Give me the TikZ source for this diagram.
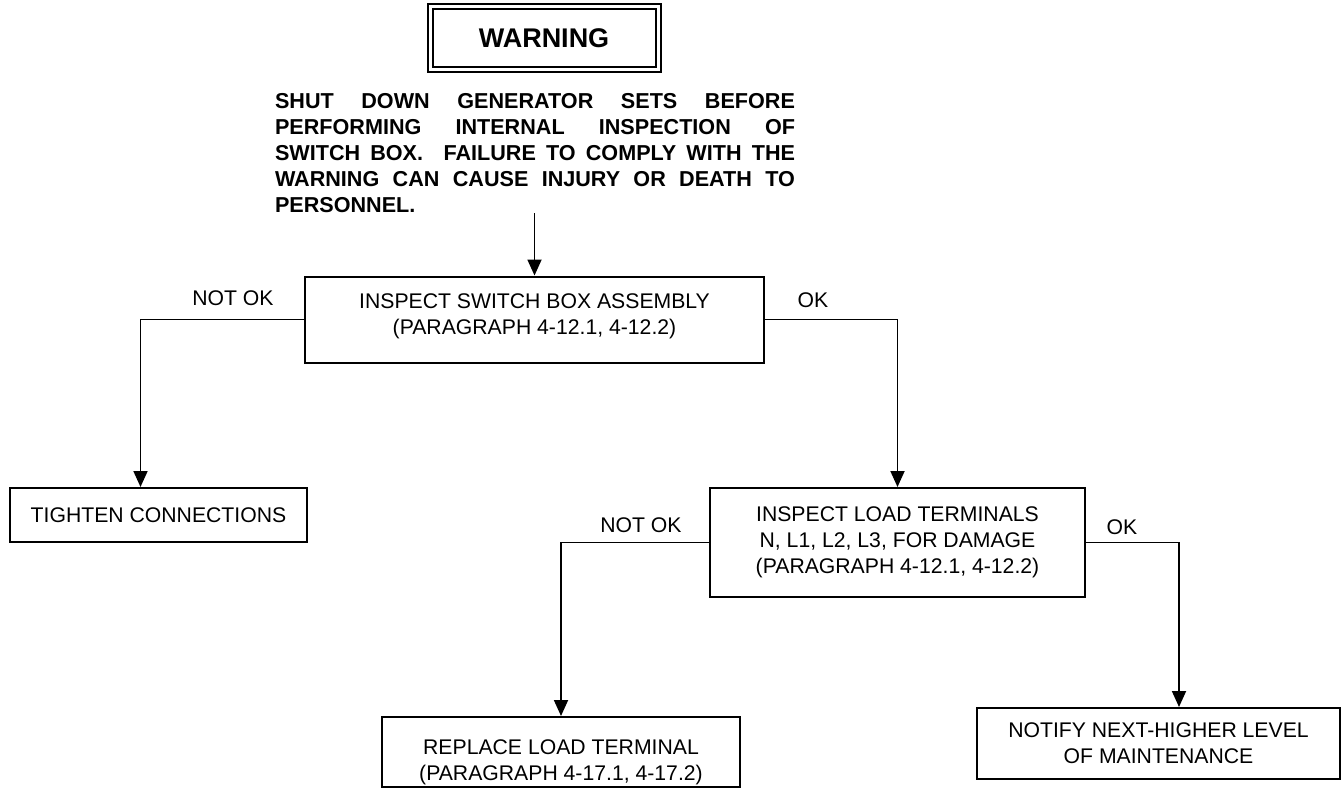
\documentclass[tikz,border=0pt]{standalone}
\usepackage{fontspec}
\setmainfont{Liberation Sans}
\usetikzlibrary{arrows.meta,positioning}

\tikzset{
  stepbox/.style={draw,line width=1pt,inner sep=0pt,align=center,
    font=\fontsize{10.6}{13}\selectfont},
  flow/.style={-{Triangle[length=8pt,width=7pt]},line width=0.9pt},
  tag/.style={font=\fontsize{10.6}{13}\selectfont}
}

\begin{document}
\begin{tikzpicture}[x=0.5pt,y=-0.5pt]
  \useasboundingbox (0,0) rectangle (1344,788);
  % warning header and text
  \node[draw,double,double distance=1.5pt,line width=1pt,minimum width=114pt,
    minimum height=31.5pt,font=\fontsize{13.5}{16}\selectfont\bfseries] (warn) at (544,38) {WARNING};
  \node[font=\fontsize{10.8}{13}\selectfont\bfseries,align=left,inner sep=0pt] (msg) at (535,153)
    {\makebox[260pt][s]{SHUT DOWN GENERATOR SETS BEFORE}\\
     \makebox[260pt][s]{PERFORMING INTERNAL INSPECTION OF}\\
     \makebox[260pt][s]{SWITCH BOX.\ \ FAILURE TO COMPLY WITH THE}\\
     \makebox[260pt][s]{WARNING CAN CAUSE INJURY OR DEATH TO}\\
     \makebox[260pt][l]{PERSONNEL.}};
  % steps
  \node[stepbox,minimum width=229.5pt,minimum height=43pt] (insp) at (534.5,319.5)
    {INSPECT SWITCH BOX ASSEMBLY\\(PARAGRAPH 4-12.1, 4-12.2)\rule[-5pt]{0pt}{0pt}};
  \node[stepbox,minimum width=148.5pt,minimum height=27pt] (tight) at (158.5,515)
    {TIGHTEN CONNECTIONS};
  \node[stepbox,minimum width=187.5pt,minimum height=54.5pt] (ld) at (897.5,542.5)
    {INSPECT LOAD TERMINALS\\N, L1, L2, L3, FOR DAMAGE\\(PARAGRAPH 4-12.1, 4-12.2)};
  \node[stepbox,minimum width=179pt,minimum height=35pt] (rep) at (561,752)
    {\rule{0pt}{17.6pt}REPLACE LOAD TERMINAL\\(PARAGRAPH 4-17.1, 4-17.2)};
  \node[stepbox,minimum width=181.5pt,minimum height=35.5pt] (notif) at (1158.5,743.5)
    {NOTIFY NEXT-HIGHER LEVEL\\OF MAINTENANCE};
  % branch labels
  \node[tag] (nok1) at (233,298) {NOT OK};
  \node[tag] (ok1) at (813,300) {OK};
  \node[tag] (nok2) at (641,525) {NOT OK};
  \node[tag] (ok2) at (1122,527) {OK};
  % connectors
  \draw[flow] (msg.south -| insp.north) -- (insp.north);
  \draw[flow] (insp.west) -| ([xshift=-9pt]tight.north);
  \draw[flow] (insp.east) -| (ld.north);
  \draw[flow] (ld.west) -| (rep.north);
  \draw[flow] (ld.east) -| ([xshift=10.25pt]notif.north);
\end{tikzpicture}
\end{document}
